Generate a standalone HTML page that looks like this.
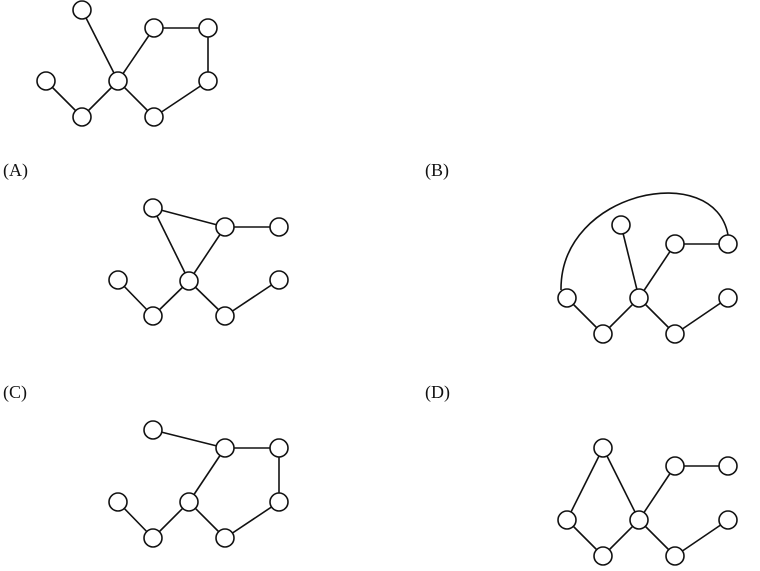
<!DOCTYPE html>
<html><head><style>
html,body{margin:0;padding:0;background:#fff;}
svg{display:block;}
text{font-family:"Liberation Serif",serif;font-size:18px;fill:#111;}
</style></head><body>
<svg width="760" height="571" viewBox="0 0 760 571" xmlns="http://www.w3.org/2000/svg">
<g stroke="#111" stroke-width="1.6" fill="none">
<line x1="82" y1="10" x2="118" y2="81"/><line x1="46" y1="81" x2="82" y2="117"/><line x1="82" y1="117" x2="118" y2="81"/><line x1="118" y1="81" x2="154" y2="28"/><line x1="154" y1="28" x2="208" y2="28"/><line x1="208" y1="28" x2="208" y2="81"/><line x1="208" y1="81" x2="154" y2="117"/><line x1="154" y1="117" x2="118" y2="81"/>
<line x1="153" y1="208" x2="225" y2="227"/><line x1="153" y1="208" x2="189" y2="281"/><line x1="225" y1="227" x2="189" y2="281"/><line x1="225" y1="227" x2="279" y2="227"/><line x1="118" y1="280" x2="153" y2="316"/><line x1="153" y1="316" x2="189" y2="281"/><line x1="189" y1="281" x2="225" y2="316"/><line x1="225" y1="316" x2="279" y2="280"/>
<path d="M561,290 C560,190 715,160 728,235"/>
<line x1="621" y1="225" x2="639" y2="298"/><line x1="639" y1="298" x2="675" y2="244"/><line x1="675" y1="244" x2="728" y2="244"/><line x1="567" y1="298" x2="603" y2="334"/><line x1="603" y1="334" x2="639" y2="298"/><line x1="639" y1="298" x2="675" y2="334"/><line x1="675" y1="334" x2="728" y2="298"/>
<line x1="153" y1="430" x2="225" y2="448"/><line x1="225" y1="448" x2="279" y2="448"/><line x1="279" y1="448" x2="279" y2="502"/><line x1="279" y1="502" x2="225" y2="538"/><line x1="225" y1="538" x2="189" y2="502"/><line x1="189" y1="502" x2="225" y2="448"/><line x1="189" y1="502" x2="153" y2="538"/><line x1="153" y1="538" x2="118" y2="502"/>
<line x1="603" y1="448" x2="567" y2="520"/><line x1="603" y1="448" x2="639" y2="520"/><line x1="567" y1="520" x2="603" y2="556"/><line x1="603" y1="556" x2="639" y2="520"/><line x1="639" y1="520" x2="675" y2="466"/><line x1="675" y1="466" x2="728" y2="466"/><line x1="639" y1="520" x2="675" y2="556"/><line x1="675" y1="556" x2="728" y2="520"/>
</g>
<g stroke="#111" stroke-width="1.6" fill="#fff">
<circle cx="82" cy="10" r="9"/><circle cx="46" cy="81" r="9"/><circle cx="82" cy="117" r="9"/><circle cx="118" cy="81" r="9"/><circle cx="154" cy="28" r="9"/><circle cx="208" cy="28" r="9"/><circle cx="208" cy="81" r="9"/><circle cx="154" cy="117" r="9"/>
<circle cx="153" cy="208" r="9"/><circle cx="225" cy="227" r="9"/><circle cx="279" cy="227" r="9"/><circle cx="118" cy="280" r="9"/><circle cx="189" cy="281" r="9"/><circle cx="153" cy="316" r="9"/><circle cx="225" cy="316" r="9"/><circle cx="279" cy="280" r="9"/>
<circle cx="621" cy="225" r="9"/><circle cx="675" cy="244" r="9"/><circle cx="728" cy="244" r="9"/><circle cx="567" cy="298" r="9"/><circle cx="639" cy="298" r="9"/><circle cx="603" cy="334" r="9"/><circle cx="675" cy="334" r="9"/><circle cx="728" cy="298" r="9"/>
<circle cx="153" cy="430" r="9"/><circle cx="225" cy="448" r="9"/><circle cx="279" cy="448" r="9"/><circle cx="118" cy="502" r="9"/><circle cx="189" cy="502" r="9"/><circle cx="153" cy="538" r="9"/><circle cx="225" cy="538" r="9"/><circle cx="279" cy="502" r="9"/>
<circle cx="603" cy="448" r="9"/><circle cx="675" cy="466" r="9"/><circle cx="728" cy="466" r="9"/><circle cx="567" cy="520" r="9"/><circle cx="639" cy="520" r="9"/><circle cx="603" cy="556" r="9"/><circle cx="675" cy="556" r="9"/><circle cx="728" cy="520" r="9"/>
</g>
<text x="3" y="176">(A)</text>
<text x="425" y="176">(B)</text>
<text x="3" y="398">(C)</text>
<text x="425" y="398">(D)</text>
</svg>
</body></html>
